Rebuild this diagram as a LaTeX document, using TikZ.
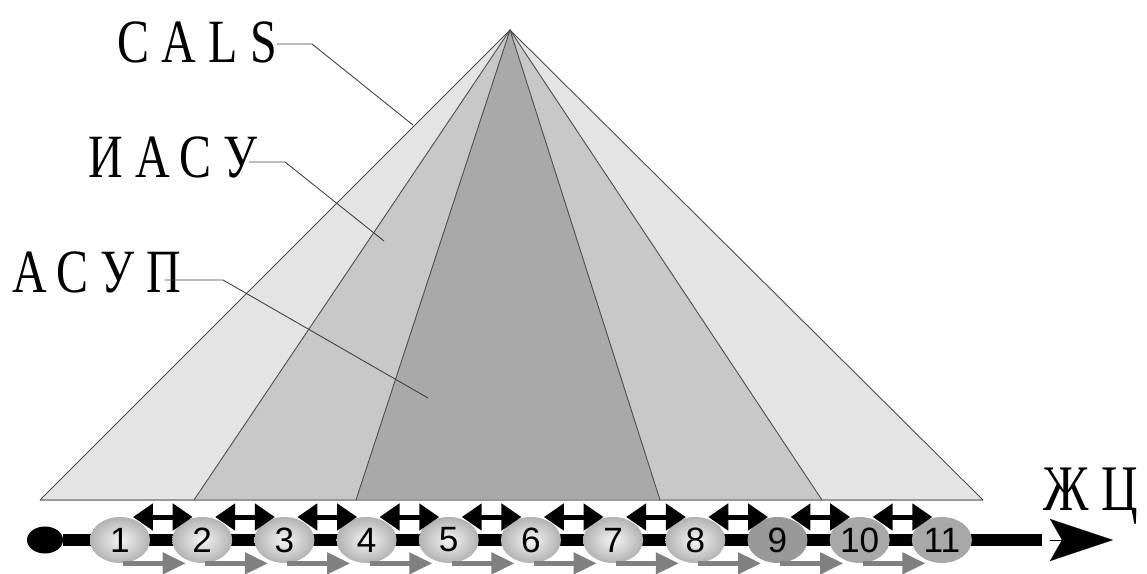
\documentclass[tikz,border=0pt]{standalone}
\usepackage{fontspec}
\usepackage{xcolor}
\usepackage{tikz}
\usetikzlibrary{shapes.geometric, arrows.meta, positioning}

\newfontfamily\levelfont[FakeStretch=0.78,LetterSpace=20]{Liberation Serif}
\newfontfamily\stagefont{Liberation Sans}

\definecolor{calsgray}{RGB}{228,228,228}
\definecolor{iasugray}{RGB}{200,200,200}
\definecolor{asupgray}{RGB}{169,169,169}

\begin{document}
\begin{tikzpicture}[
    x=0.02cm, y=-0.02cm,
    facet/.style={draw=black!70, line width=0.5pt},
    levelname/.style={anchor=base west, inner sep=0pt, font=\levelfont\fontsize{35}{40}\selectfont},
    leader/.style={draw=black!75, line width=0.5pt},
    stagebase/.style={ellipse, minimum width=1.2cm, minimum height=0.92cm, inner sep=0pt, font=\stagefont\fontsize{20}{24}\selectfont},
    stage/.style={stagebase, shading=radial, inner color=black!4, outer color=black!30},
    stagedark/.style={stagebase, fill=black!40},
    stagemid/.style={stagebase, fill=black!34},
    lifeline/.style={line width=0.24cm},
    dblarrow/.style={{Triangle[length=0.4cm,width=0.52cm]}-{Triangle[length=0.4cm,width=0.52cm]}, line width=0.1cm, shorten <=0.26cm, shorten >=0.19cm},
    flowarrow/.style={-{Triangle[length=0.46cm,width=0.42cm]}, line width=0.09cm, draw=black!50}
]
\useasboundingbox (0,0) rectangle (1147,574);

% Pyramid
\coordinate (apex) at (510,30);
\coordinate (calsL) at (40,500);
\coordinate (iasuL) at (194,500);
\coordinate (asupL) at (356,500);
\coordinate (asupR) at (660,500);
\coordinate (iasuR) at (822,500);
\coordinate (calsR) at (983,500);

\fill[calsgray] (calsL) -- (apex) -- (calsR) -- cycle;
\fill[iasugray] (iasuL) -- (apex) -- (iasuR) -- cycle;
\fill[asupgray] (asupL) -- (apex) -- (asupR) -- cycle;
\draw[black!40, line width=0.6pt] (calsL) -- (calsR);
\draw[facet] (calsL) -- (apex) -- (calsR);
\draw[facet] (iasuL) -- (apex) -- (iasuR);
\draw[facet] (asupL) -- (apex) -- (asupR);

% Level names
\node[levelname] (cals) at (117,63) {CALS};
\node[levelname] (iasu) at (88,178) {ИАСУ};
\node[levelname] (asup) at (12,293) {АСУП};

\coordinate (calsknee) at (312,44);
\coordinate (calsend) at (413,125);
\coordinate (iasuknee) at (285,162);
\coordinate (iasuend) at (384,241);
\coordinate (asupknee) at (223,280);
\coordinate (asupend) at (428,398);

\draw[leader] (cals.east |- calsknee) -- (calsknee) -- (calsend);
\draw[leader] ([xshift=-0.18cm]iasu.east |- iasuknee) -- (iasuknee) -- (iasuend);
\draw[leader] ([xshift=-0.34cm]asup.east |- asupknee) -- (asupknee) -- (asupend);

% Life cycle line
\node[ellipse, fill=black, minimum width=0.72cm, minimum height=0.54cm, inner sep=0pt] (start) at (45,540) {};
\coordinate (lineend) at (1042,540);
\coordinate (headstart) at (1050,540);
\coordinate (headtip) at (1113,540);
\draw[lifeline] (start) -- (lineend);
\draw[line width=0.1pt, -{Stealth[length=1.26cm, width=0.84cm, inset=0.24cm]}] (headstart) -- (headtip);

\node[levelname, font=\levelfont\fontsize{37}{40}\selectfont] (zhc) at (1043,510) {ЖЦ};

% Stages
\node[stage] (e1) at (120,540) {1};
\node[stage, right=0.43cm of e1] (e2) {2};
\node[stage, right=0.43cm of e2] (e3) {3};
\node[stage, right=0.43cm of e3] (e4) {4};
\node[stage, right=0.43cm of e4] (e5) {5};
\node[stage, right=0.43cm of e5] (e6) {6};
\node[stage, right=0.43cm of e6] (e7) {7};
\node[stage, right=0.43cm of e7] (e8) {8};
\node[stagedark, right=0.43cm of e8] (e9) {9};
\node[stagemid, right=0.43cm of e9] (e10) {10};
\node[stagemid, right=0.43cm of e10] (e11) {11};

% Links between stages
\draw[dblarrow] ([yshift=0.46cm]e1.center) -- ([yshift=0.46cm]e2.center);
\draw[dblarrow] ([yshift=0.46cm]e2.center) -- ([yshift=0.46cm]e3.center);
\draw[dblarrow] ([yshift=0.46cm]e3.center) -- ([yshift=0.46cm]e4.center);
\draw[dblarrow] ([yshift=0.46cm]e4.center) -- ([yshift=0.46cm]e5.center);
\draw[dblarrow] ([yshift=0.46cm]e5.center) -- ([yshift=0.46cm]e6.center);
\draw[dblarrow] ([yshift=0.46cm]e6.center) -- ([yshift=0.46cm]e7.center);
\draw[dblarrow] ([yshift=0.46cm]e7.center) -- ([yshift=0.46cm]e8.center);
\draw[dblarrow] ([yshift=0.46cm]e8.center) -- ([yshift=0.46cm]e9.center);
\draw[dblarrow] ([yshift=0.46cm]e9.center) -- ([yshift=0.46cm]e10.center);
\draw[dblarrow] ([yshift=0.46cm]e10.center) -- ([yshift=0.46cm]e11.center);

\draw[flowarrow] ([xshift=0.06cm]e1.south) -- ([xshift=-0.33cm]e2.south);
\draw[flowarrow] ([xshift=0.06cm]e2.south) -- ([xshift=-0.33cm]e3.south);
\draw[flowarrow] ([xshift=0.06cm]e3.south) -- ([xshift=-0.33cm]e4.south);
\draw[flowarrow] ([xshift=0.06cm]e4.south) -- ([xshift=-0.33cm]e5.south);
\draw[flowarrow] ([xshift=0.06cm]e5.south) -- ([xshift=-0.33cm]e6.south);
\draw[flowarrow] ([xshift=0.06cm]e6.south) -- ([xshift=-0.33cm]e7.south);
\draw[flowarrow] ([xshift=0.06cm]e7.south) -- ([xshift=-0.33cm]e8.south);
\draw[flowarrow] ([xshift=0.06cm]e8.south) -- ([xshift=-0.33cm]e9.south);
\draw[flowarrow] ([xshift=0.06cm]e9.south) -- ([xshift=-0.33cm]e10.south);
\draw[flowarrow] ([xshift=0.06cm]e10.south) -- ([xshift=-0.33cm]e11.south);

\end{tikzpicture}
\end{document}
